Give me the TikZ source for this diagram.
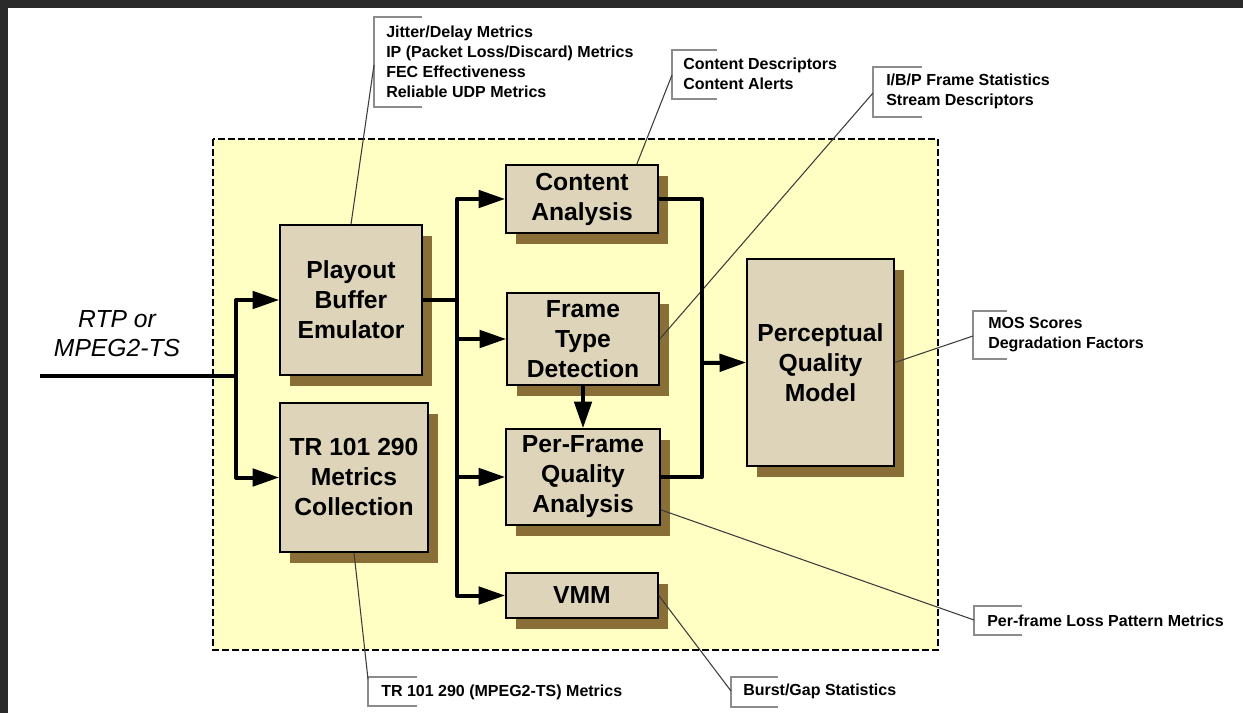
\documentclass[tikz,border=0pt]{standalone}
\usepackage{fontspec}
\setmainfont{Liberation Sans}
\usepackage{tikz}
\usetikzlibrary{arrows.meta,shadows,calc}

\definecolor{framedark}{RGB}{42,42,42}
\definecolor{panelyellow}{RGB}{255,255,196}
\definecolor{boxtan}{RGB}{221,212,186}
\definecolor{shadowbrown}{RGB}{138,110,56}
\definecolor{bracketgray}{RGB}{140,140,140}
\definecolor{leadergray}{RGB}{60,60,60}

\begin{document}
\begin{tikzpicture}[x=0.75pt,y=0.75pt,yscale=-1,xscale=1,
  blockbox/.style={draw=black,line width=1.2pt,fill=boxtan,inner sep=0pt,align=center,
    font=\fontsize{18.5}{22.5}\selectfont\bfseries,
    drop shadow={shadow xshift=7.5pt,shadow yshift=-8pt,fill=shadowbrown,opacity=1}},
  note/.style={anchor=west,inner sep=0pt,align=left,font=\fontsize{12}{15}\selectfont\bfseries},
  bracket/.style={draw=bracketgray,line width=1.4pt},
  leader/.style={draw=leadergray,line width=0.8pt},
  bus/.style={line width=3pt,line join=round},
  flow/.style={bus,-{Triangle[length=20pt,width=13pt]}}]
\useasboundingbox (0,0) rectangle (1243,713);

%Shape: Frame
\fill[framedark] (0,0) rectangle (1243,713);
\fill[white] (8,8) rectangle (1243,713);

%Shape: Dashed panel
\draw[fill=panelyellow,line width=1.1pt,dash pattern=on 5pt off 2.5pt] (213,139) rectangle (938,650);

% Blocks
\node[blockbox,minimum width=106.5pt,minimum height=112.5pt] (play) at (351,300) {Playout\\Buffer\\Emulator};
\node[blockbox,minimum width=111pt,minimum height=111.75pt] (tr) at (354,477.5) {TR 101 290\\Metrics\\Collection};
\node[blockbox,minimum width=114pt,minimum height=51pt] (content) at (582,199) {Content\\Analysis};
\node[blockbox,minimum width=114pt,minimum height=69pt] (frame) at (583,339) {Frame\\Type\\Detection};
\node[blockbox,minimum width=115.5pt,minimum height=72pt] (perframe) at (583,477) {Per-Frame\\Quality\\Analysis};
\node[blockbox,minimum width=114pt,minimum height=34pt] (vmm) at (582,595.5) {VMM};
\node[blockbox,minimum width=110.25pt,minimum height=155.25pt] (pqm) at (820.5,362.5) {Perceptual\\Quality\\Model};

% Input label
\node[align=center,inner sep=0pt,font=\fontsize{18.5}{21.75}\selectfont\itshape] (rtp) at (117,334) {RTP or\\MPEG2-TS};

% Text Node (callouts)
\node[note] (jitternote) at (386,62) {Jitter/Delay Metrics\\IP (Packet Loss/Discard) Metrics\\FEC Effectiveness\\Reliable UDP Metrics};
\node[note] (contentnote) at (683,74) {Content Descriptors\\Content Alerts};
\node[note] (ibpnote) at (886,91) {I/B/P Frame Statistics\\Stream Descriptors};
\node[note] (mosnote) at (988,335) {MOS Scores\\Degradation Factors};
\node[note] (lossnote) at (987,621) {Per-frame Loss Pattern Metrics};
\node[note] (burstnote) at (743,691) {Burst/Gap Statistics};
\node[note] (trnote) at (381,692) {TR 101 290 (MPEG2-TS) Metrics};

%Shape: Brackets
\draw[bracket] (422,17) -- (374,17) -- (374,107) -- (422,107);
\draw[bracket] (717,50) -- (672,50) -- (672,99) -- (717,99);
\draw[bracket] (922,67) -- (873,67) -- (873,117) -- (922,117);
\draw[bracket] (1007,311) -- (973,311) -- (973,359) -- (1007,359);
\draw[bracket] (1022,606) -- (974,606) -- (974,635) -- (1022,635);
\draw[bracket] (778,677) -- (731,677) -- (731,707) -- (778,707);
\draw[bracket] (417,677) -- (368,677) -- (368,706) -- (417,706);
\coordinate (jitterbr) at (374,65);
\coordinate (contentbr) at (672,75);
\coordinate (ibpbr) at (873,93);
\coordinate (mosbr) at (973,336);
\coordinate (lossbr) at (974,620);
\coordinate (burstbr) at (731,691);
\coordinate (trbr) at (368,679);

%Straight Lines: leaders
\draw[leader] (play.north) -- (jitterbr);
\draw[leader] ($(content.north east)+(-22,0)$) -- (contentbr);
\draw[leader] (frame.east) -- (ibpbr);
\draw[leader] (pqm.east) -- (mosbr);
\draw[leader] ($(perframe.south east)+(0,-16)$) -- (lossbr);
\draw[leader] (vmm.east) -- (burstbr);
\draw[leader] (tr.south) -- (trbr);

% Signal paths
\coordinate (src) at (40,376);
\coordinate (split) at (236,376);
\coordinate (fork) at (457,300);
\coordinate (merge) at (702,363);
\draw[bus] (src) -- (split);
\draw[flow] (split) |- (play.west);
\draw[flow] (split) |- (tr.west);
\draw[bus] (play.east) -- (fork);
\draw[flow] (fork) |- (content.west);
\draw[flow] (fork) |- (frame.west);
\draw[flow] (fork) |- (perframe.west);
\draw[flow] (fork) |- (vmm.west);
\draw[flow] (frame.south) -- (perframe.north);
\draw[bus] (content.east) -| (merge) |- (perframe.east);
\draw[flow] (merge) -- (pqm.west);

\end{tikzpicture}
\end{document}
